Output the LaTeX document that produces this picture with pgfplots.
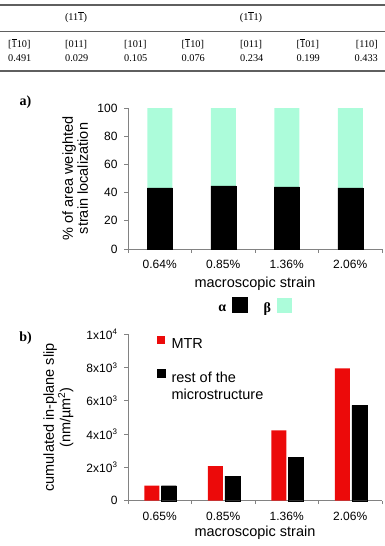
\documentclass[border=0pt]{standalone}
\usepackage{pgfplots}
\pgfplotsset{compat=1.18}
\usepackage{fontspec}
\setmainfont{Liberation Sans}
\newfontfamily\serif{Liberation Serif}

\definecolor{mint}{RGB}{172,252,218}
\definecolor{mtr}{RGB}{236,10,10}
\definecolor{axgray}{RGB}{130,130,130}
\definecolor{rulegray}{RGB}{95,95,95}

% overbarred index for Miller notation
\newcommand\ob[1]{$\overline{\mbox{#1}}$}

\pgfplotsset{
  strainaxis/.style={
    scale only axis,
    width=254pt,
    xmin=-0.5, xmax=3.5,
    axis lines*=left,
    axis line style={axgray, line width=0.8pt},
    tick align=outside,
    major tick length=3.5pt,
    every tick/.style={axgray, line width=0.8pt},
    xtick={-0.5,0.5,1.5,2.5,3.5},
    xticklabels={},
    extra x ticks={0,1,2,3},
    extra x tick style={major tick length=0pt},
    tick label style={font=\fontsize{12}{13}\selectfont},
    xticklabel style={yshift=-8pt},
    yticklabel style={xshift=-3.5pt},
    label style={font=\fontsize{14.5}{15}\selectfont},
    /pgf/number format/assume math mode=true,
    scaled y ticks=false,
    clip=false,
  },
}

\begin{document}
\begin{tikzpicture}
\path[use as bounding box] (0pt,0pt) rectangle (385pt,-546pt);

% ---- table of Schmid factors ----
\draw[rulegray, line width=1.2pt] (0pt,-5pt) -- (385pt,-5pt);
\draw[rulegray, line width=0.9pt] (0pt,-31pt) -- (385pt,-31pt);
\draw[rulegray, line width=1.2pt] (0pt,-71pt) -- (385pt,-71pt);
\begin{scope}[every node/.style={font=\serif\fontsize{10.3}{11}\selectfont, inner sep=0pt}]
  \node[anchor=base] at (76pt,-20.5pt) {(11\ob{1})};
  \node[anchor=base] at (251pt,-20.5pt) {(1\ob{1}1)};
  \node[anchor=base west] at (8pt,-47.5pt) {[\ob{1}10]};
  \node[anchor=base west] at (65pt,-47.5pt) {[011]};
  \node[anchor=base west] at (124pt,-47.5pt) {[101]};
  \node[anchor=base west] at (181.5pt,-47.5pt) {[\ob{1}10]};
  \node[anchor=base west] at (240pt,-47.5pt) {[011]};
  \node[anchor=base west] at (296.5pt,-47.5pt) {[\ob{1}01]};
  \node[anchor=base east] at (378pt,-47.5pt) {[110]};
  \node[anchor=base west] at (8pt,-61pt) {0.491};
  \node[anchor=base west] at (65pt,-61pt) {0.029};
  \node[anchor=base west] at (124pt,-61pt) {0.105};
  \node[anchor=base west] at (181.5pt,-61pt) {0.076};
  \node[anchor=base west] at (240pt,-61pt) {0.234};
  \node[anchor=base west] at (296.5pt,-61pt) {0.199};
  \node[anchor=base east] at (378pt,-61pt) {0.433};
\end{scope}

% ---- panel a ----
\node[font=\serif\bfseries\fontsize{14}{14}\selectfont] at (25.5pt,-102pt) {a)};
\begin{axis}[strainaxis,
  at={(128pt,-249pt)}, anchor=south west,
  height=141pt,
  ymin=0, ymax=100, ytick={0,20,...,100},
  ybar stacked, bar width=25pt,
  extra x tick labels={0.64\%,0.85\%,1.36\%,2.06\%},
  xlabel={macroscopic strain},
  xlabel style={at={(axis description cs:0.5,-0.245)}, anchor=center},
  ylabel={\% of area weighted\\strain localization},
  ylabel style={at={(axis description cs:-0.208,0.5)}, anchor=center, align=center},
  legend plot pos=right,
  legend columns=2,
  legend style={draw=none, fill=none,
    at={(axis description cs:0.335,-0.41)}, anchor=west,
    font=\serif\bfseries\fontsize{14}{14}\selectfont,
    /tikz/every odd column/.style={column sep=4pt},
    /tikz/every even column/.style={column sep=14pt}},
]
\addplot[fill=black, draw=black,
  legend image code/.code={\fill[black] (0pt,-4pt) rectangle (15pt,11pt);}]
  coordinates {(0,43.3) (1,44.8) (2,44.0) (3,43.3)};
\addplot[fill=mint, draw=none,
  legend image code/.code={\fill[mint] (0pt,-4pt) rectangle (15pt,11pt);}]
  coordinates {(0,56.7) (1,55.2) (2,56.0) (3,56.7)};
\legend{α, β}
\end{axis}

% ---- panel b ----
\node[font=\serif\bfseries\fontsize{14}{14}\selectfont] at (25.5pt,-338pt) {b)};
\begin{axis}[strainaxis,
  at={(128pt,-500.7pt)}, anchor=south west,
  height=166.4pt,
  ymin=0, ymax=10000, ytick={0,2000,...,10000},
  yticklabels={0, 2x10\textsuperscript{3}, 4x10\textsuperscript{3}, 6x10\textsuperscript{3}, 8x10\textsuperscript{3}, 1x10\textsuperscript{4}},
  extra x tick labels={0.65\%,0.85\%,1.36\%,2.06\%},
  xlabel={macroscopic strain},
  xlabel style={at={(axis description cs:0.5,-0.194)}, anchor=center},
  ylabel={cumulated in-plane slip\\(nm/µm\textsuperscript{2})},
  ylabel style={at={(axis description cs:-0.274,0.5)}, anchor=center, align=center},
  legend cell align=left,
  legend style={draw=none, fill=none,
    at={(axis description cs:0.102,1.005)}, anchor=north west,
    font=\fontsize{14.5}{17}\selectfont,
    row sep=16pt,
    /tikz/every odd column/.style={column sep=4pt}},
]
\addplot[ybar, bar width=15pt, bar shift=-8pt, fill=mtr, draw=none,
  legend image code/.code={\fill[mtr] (0pt,1pt) rectangle (8pt,9pt);}]
  coordinates {(0,900) (1,2080) (2,4230) (3,7950)};
\addplot[ybar, bar width=15pt, bar shift=9pt, fill=black, draw=black,
  legend image code/.code={\fill[black] (0pt,0pt) rectangle (8pt,8pt);}]
  coordinates {(0,900) (1,1480) (2,2600) (3,5730)};
\legend{MTR, \begin{tabular}[t]{@{}l@{}}rest of the\\microstructure\end{tabular}}
\end{axis}
\end{tikzpicture}
\end{document}
